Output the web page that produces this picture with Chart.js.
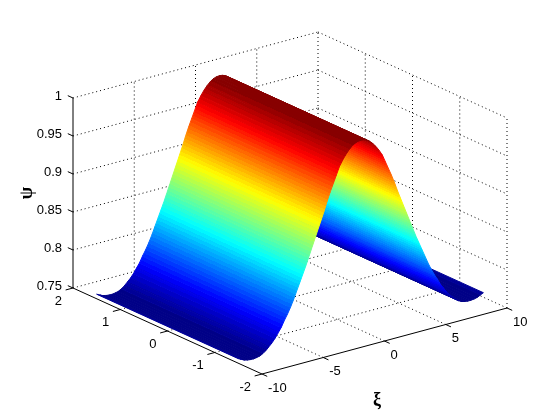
<!DOCTYPE html>
<html>
<head>
<meta charset="utf-8">
<style>
  html, body { margin: 0; padding: 0; background: #fff; }
  canvas { display: block; }
</style>
<script src="https://cdn.jsdelivr.net/npm/chart.js@4/dist/chart.umd.min.js"></script>
</head>
<body>
<canvas id="surface" width="560" height="420"></canvas>
<script>
// ================================
// DATA
// ================================
const xiValues = [
  -10, -9.75, -9.5, -9.25, -9, -8.75, -8.5, -8.25, -8, -7.75,
  -7.5, -7.25, -7, -6.75, -6.5, -6.25, -6, -5.75, -5.5, -5.25,
  -5, -4.75, -4.5, -4.25, -4, -3.75, -3.5, -3.25, -3, -2.75,
  -2.5, -2.25, -2, -1.75, -1.5, -1.25, -1, -0.75, -0.5, -0.25,
  0, 0.25, 0.5, 0.75, 1, 1.25, 1.5, 1.75, 2, 2.25,
  2.5, 2.75, 3, 3.25, 3.5, 3.75, 4, 4.25, 4.5, 4.75,
  5, 5.25, 5.5, 5.75, 6, 6.25, 6.5, 6.75, 7, 7.25,
  7.5, 7.75, 8, 8.25, 8.5, 8.75, 9, 9.25, 9.5, 9.75, 10
];
const psiValues = [
  0.756, 0.754, 0.752, 0.751, 0.7505, 0.7504, 0.751, 0.752, 0.754, 0.757,
  0.761, 0.765, 0.770, 0.776, 0.782, 0.790, 0.797, 0.805, 0.814, 0.824,
  0.834, 0.844, 0.854, 0.865, 0.876, 0.887, 0.898, 0.909, 0.920, 0.932,
  0.943, 0.953, 0.963, 0.973, 0.980, 0.986, 0.991, 0.995, 0.998, 0.9995,
  1.0, 0.9995, 0.998, 0.995, 0.991, 0.986, 0.980, 0.973, 0.963, 0.953,
  0.943, 0.932, 0.920, 0.909, 0.898, 0.887, 0.876, 0.865, 0.854, 0.844,
  0.834, 0.824, 0.814, 0.805, 0.797, 0.790, 0.782, 0.776, 0.770, 0.765,
  0.761, 0.757, 0.754, 0.752, 0.751, 0.7504, 0.7505, 0.751, 0.752, 0.754, 0.756
];
const etaEdges = [-1.5, 1.5];

const xiTicks = [-10, -5, 0, 5, 10];
const etaTicks = [-2, -1, 0, 1, 2];
const psiTicks = [0.75, 0.8, 0.85, 0.9, 0.95, 1];
const psiTickLabels = ["0.75", "0.8", "0.85", "0.9", "0.95", "1"];

// ================================
// VIEW (same box as the 3D axes)
// ================================
const xiRange = [-10, 10];
const etaRange = [-2, 2];
const psiRange = [0.75, 1];
const viewOrigin = [262, 374];
const viewXi = [245, -66];
const viewEta = [-189, -86];
const viewPsi = [0, -190];

function project(xi, eta, psi) {
  const a = (xi - xiRange[0]) / (xiRange[1] - xiRange[0]);
  const b = (eta - etaRange[0]) / (etaRange[1] - etaRange[0]);
  const c = (psi - psiRange[0]) / (psiRange[1] - psiRange[0]);
  return {
    x: viewOrigin[0] + a * viewXi[0] + b * viewEta[0] + c * viewPsi[0],
    y: viewOrigin[1] + a * viewXi[1] + b * viewEta[1] + c * viewPsi[1]
  };
}

// ================================
// JET COLORMAP, 64 LEVELS
// ================================
const LEVELS = 64;

function jetLevel(level) {
  const t = (Math.max(0, Math.min(LEVELS - 1, level)) + 0.5) / LEVELS;
  const ch = (c) => Math.round(255 * Math.max(0, Math.min(1, 1.5 - Math.abs(4 * t - c))));
  return `rgb(${ch(3)},${ch(2)},${ch(1)})`;
}

function psiToLevel(psi) {
  return (psi - psiRange[0]) / (psiRange[1] - psiRange[0]) * LEVELS;
}

// colour bands across one strip, like interpolated shading through the colormap
const ctx2d = document.getElementById("surface").getContext("2d");

function stripPaint(xi0, psi0, xi1, psi1) {
  const a = project(xi0, etaEdges[0], psi0);
  const b = project(xi1, etaEdges[0], psi1);
  const l0 = psiToLevel(psi0), l1 = psiToLevel(psi1);
  const k0 = Math.floor(l0), k1 = Math.floor(l1);
  if (k0 === k1) return jetLevel(k0);

  // gradient runs across the strip, so its bands stay parallel to the eta edges
  const elen = Math.hypot(viewEta[0], viewEta[1]);
  const ex = viewEta[0] / elen, ey = viewEta[1] / elen;
  const dx = b.x - a.x, dy = b.y - a.y;
  const dot = dx * ex + dy * ey;
  const px = dx - dot * ex, py = dy - dot * ey;
  if (Math.hypot(px, py) < 0.5) return jetLevel(k0);

  const grad = ctx2d.createLinearGradient(a.x, a.y, a.x + px, a.y + py);
  const step = k1 > k0 ? 1 : -1;
  let start = 0;
  for (let k = k0; k !== k1; k += step) {
    const edge = step > 0 ? k + 1 : k;
    const end = (edge - l0) / (l1 - l0);
    grad.addColorStop(start, jetLevel(k));
    grad.addColorStop(end, jetLevel(k));
    start = end;
  }
  grad.addColorStop(start, jetLevel(k1));
  grad.addColorStop(1, jetLevel(k1));
  return grad;
}

// ================================
// DATASETS
// ================================
function lineSet(points, solid) {
  return {
    data: points,
    showLine: true,
    fill: false,
    borderColor: "#000",
    borderWidth: 1,
    borderDash: solid ? [] : [1, 3],
    pointRadius: 0,
    tension: 0
  };
}

// near strips come first in the array so they paint on top of the far ones
const surfaceSets = [];
for (let i = 0; i < xiValues.length - 1; i++) {
  const paint = stripPaint(xiValues[i], psiValues[i], xiValues[i + 1], psiValues[i + 1]);
  surfaceSets.push({
    data: [
      project(xiValues[i], etaEdges[0], psiValues[i]),
      project(xiValues[i + 1], etaEdges[0], psiValues[i + 1]),
      project(xiValues[i + 1], etaEdges[1], psiValues[i + 1]),
      project(xiValues[i], etaEdges[1], psiValues[i]),
      project(xiValues[i], etaEdges[0], psiValues[i])
    ],
    showLine: true,
    fill: "shape",
    backgroundColor: paint,
    borderColor: paint,
    borderWidth: 1,
    pointRadius: 0,
    tension: 0
  });
}

const gridSets = [];
const xMin = xiRange[0], xMax = xiRange[1];
const eMin = etaRange[0], eMax = etaRange[1];
const pMin = psiRange[0], pMax = psiRange[1];

xiTicks.forEach(xi => {
  if (xi !== xMin) gridSets.push(lineSet([project(xi, eMin, pMin), project(xi, eMax, pMin)]));
  if (xi !== xMin) gridSets.push(lineSet([project(xi, eMax, pMin), project(xi, eMax, pMax)]));
});
etaTicks.forEach(eta => {
  if (eta !== eMin) gridSets.push(lineSet([project(xMin, eta, pMin), project(xMax, eta, pMin)]));
  if (eta !== eMax) gridSets.push(lineSet([project(xMax, eta, pMin), project(xMax, eta, pMax)]));
});
psiTicks.forEach(psi => {
  if (psi !== pMin) {
    gridSets.push(lineSet([project(xMin, eMax, psi), project(xMax, eMax, psi)]));
    gridSets.push(lineSet([project(xMax, eMax, psi), project(xMax, eMin, psi)]));
  }
});

const axisSets = [
  lineSet([project(xMin, eMax, pMin), project(xMin, eMax, pMax)], true),
  lineSet([project(xMin, eMax, pMin), project(xMin, eMin, pMin)], true),
  lineSet([project(xMin, eMin, pMin), project(xMax, eMin, pMin)], true)
];
psiTicks.forEach(psi => axisSets.push(lineSet([project(xMin, eMax, psi), project(xMin, eMax + 0.11, psi)], true)));
etaTicks.forEach(eta => axisSets.push(lineSet([project(xMin, eta, pMin), project(xMin - 0.6, eta, pMin)], true)));
xiTicks.forEach(xi => axisSets.push(lineSet([project(xi, eMin, pMin), project(xi, eMin - 0.11, pMin)], true)));

// ================================
// TICK LABELS + AXIS TITLES
// ================================
const axisText = {
  id: "axisText",
  afterDraw(chart) {
    const ctx = chart.ctx;
    ctx.save();
    ctx.fillStyle = "#000";
    ctx.textBaseline = "middle";
    ctx.font = '13px "Liberation Sans"';

    ctx.textAlign = "right";
    psiTicks.forEach((psi, i) => {
      const p = project(xMin, eMax, psi);
      ctx.fillText(psiTickLabels[i], 62, p.y - 2);
    });
    etaTicks.forEach(eta => {
      const p = project(xMin, eta, pMin);
      ctx.fillText(String(eta), p.x - 11, p.y + 13);
    });

    ctx.textAlign = "left";
    xiTicks.forEach(xi => {
      const p = project(xi, eMin, pMin);
      ctx.fillText(String(xi), p.x + 6, p.y + 14);
    });

    ctx.font = 'bold 18px "Liberation Serif"';
    ctx.textAlign = "center";
    ctx.fillText("ξ", 377, 400);
    ctx.translate(27, 193);
    ctx.rotate(-Math.PI / 2);
    ctx.fillText("ψ", 0, 0);
    ctx.restore();
  }
};

// ================================
// CHART
// ================================
new Chart(document.getElementById("surface"), {
  type: "scatter",
  data: { datasets: [...surfaceSets, ...axisSets, ...gridSets] },
  options: {
    responsive: false,
    animation: false,
    layout: { padding: 0 },
    plugins: { legend: { display: false }, tooltip: { enabled: false } },
    scales: {
      x: { type: "linear", min: 0, max: 560, display: false },
      y: { type: "linear", min: 0, max: 420, reverse: true, display: false }
    }
  },
  plugins: [axisText]
});
</script>
</body>
</html>
